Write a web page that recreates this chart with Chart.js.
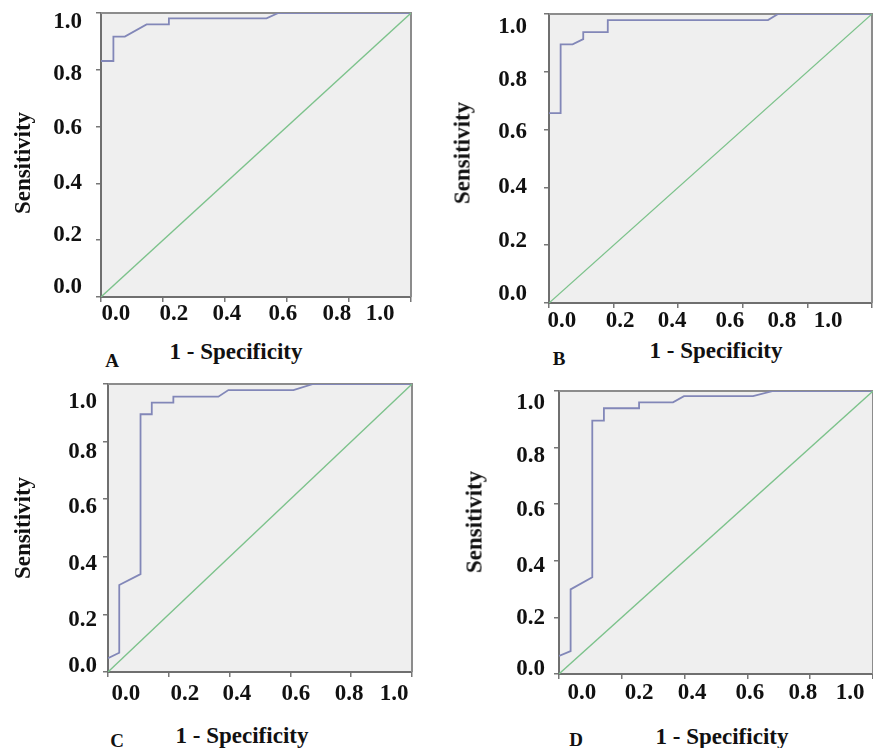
<!DOCTYPE html>
<html>
<head>
<meta charset="utf-8">
<script src="https://cdn.jsdelivr.net/npm/chart.js@4.4.1/dist/chart.umd.min.js"></script>
<style>
  body { margin: 0; background: #fff; width: 873px; height: 748px; position: relative; overflow: hidden;
         font-family: "Liberation Serif", "Times New Roman", serif; }
  canvas { position: absolute; }
  .txt { position: absolute; font-weight: bold; font-size: 23px; line-height: 1; white-space: nowrap;
         transform: translate(-50%, -50%); color: #111; }
  .rot { transform: translate(-50%, -50%) rotate(-90deg); }
  .tag { font-size: 19px; }
</style>
</head>
<body>
<canvas id="chartA"></canvas>
<canvas id="chartB"></canvas>
<canvas id="chartC"></canvas>
<canvas id="chartD"></canvas>

<div class="txt rot" style="left:22px; top:163px;">Sensitivity</div>
<div class="txt" style="left:236px; top:351px;">1 - Specificity</div>
<div class="txt tag" style="left:112px; top:360px;">A</div>

<div class="txt rot" style="left:462px; top:153px;">Sensitivity</div>
<div class="txt" style="left:716px; top:350px;">1 - Specificity</div>
<div class="txt tag" style="left:559px; top:358px;">B</div>

<div class="txt rot" style="left:22px; top:528px;">Sensitivity</div>
<div class="txt" style="left:242px; top:735px;">1 - Specificity</div>
<div class="txt tag" style="left:117px; top:740px;">C</div>

<div class="txt rot" style="left:474px; top:522px;">Sensitivity</div>
<div class="txt" style="left:722px; top:736px;">1 - Specificity</div>
<div class="txt tag" style="left:576px; top:739px;">D</div>

<script>
// tick labels shared by every panel
const tickText = ['0.0', '0.2', '0.4', '0.6', '0.8', '1.0'];

// reference line
const diagX = [0, 1];
const diagY = [0, 1];

// ROC curve A
const rocAx = [0, 0.04, 0.04, 0.077, 0.147, 0.219, 0.219, 0.534, 0.572, 1];
const rocAy = [0.831, 0.831, 0.917, 0.917, 0.96, 0.96, 0.981, 0.981, 1, 1];

// ROC curve B
const rocBx = [0, 0.036, 0.036, 0.073, 0.106, 0.106, 0.182, 0.182, 0.678, 0.709, 1];
const rocBy = [0.657, 0.657, 0.895, 0.895, 0.913, 0.937, 0.937, 0.979, 0.979, 1, 1];

// ROC curve C
const rocCx = [0, 0.037, 0.037, 0.107, 0.107, 0.144, 0.144, 0.215, 0.215, 0.363, 0.396, 0.61, 0.675, 1];
const rocCy = [0.048, 0.067, 0.302, 0.34, 0.895, 0.895, 0.935, 0.935, 0.956, 0.956, 0.979, 0.979, 1, 1];

// ROC curve D
const rocDx = [0, 0.037, 0.037, 0.106, 0.106, 0.143, 0.143, 0.255, 0.255, 0.363, 0.398, 0.618, 0.682, 1];
const rocDy = [0.064, 0.081, 0.299, 0.342, 0.895, 0.895, 0.939, 0.939, 0.96, 0.96, 0.982, 0.982, 1, 1];

// where each panel sits on the page, and where its tick labels were printed
const panels = [
  { id: 'chartA', rocX: rocAx, rocY: rocAy,
    box: { left: 0, top: 0, width: 415, height: 335 },
    plot: { left: 101, top: 13, right: 411, bottom: 297 },
    xLabelAt: [0.048, 0.235, 0.406, 0.587, 0.761, 0.9],
    yLabelAt: [0.035, 0.218, 0.401, 0.595, 0.785, 0.968],
    yPad: 13, xPad: 0 },
  { id: 'chartB', rocX: rocBx, rocY: rocBy,
    box: { left: 440, top: 0, width: 433, height: 335 },
    plot: { left: 549, top: 14, right: 872, bottom: 303 },
    xLabelAt: [0.04, 0.22, 0.381, 0.56, 0.721, 0.864],
    yLabelAt: [0.031, 0.215, 0.401, 0.592, 0.772, 0.955],
    yPad: 16, xPad: 1 },
  { id: 'chartC', rocX: rocCx, rocY: rocCy,
    box: { left: 0, top: 375, width: 416, height: 337 },
    plot: { left: 108, top: 384, right: 412, bottom: 672 },
    xLabelAt: [0.059, 0.253, 0.424, 0.618, 0.793, 0.941],
    yLabelAt: [0.021, 0.181, 0.375, 0.571, 0.762, 0.938],
    yPad: 5, xPad: 5 },
  { id: 'chartD', rocX: rocDx, rocY: rocDy,
    box: { left: 440, top: 375, width: 433, height: 337 },
    plot: { left: 559, top: 391, right: 873, bottom: 674 },
    xLabelAt: [0.073, 0.255, 0.424, 0.608, 0.777, 0.927],
    yLabelAt: [0.018, 0.198, 0.382, 0.58, 0.77, 0.958],
    yPad: 8, xPad: 2 }
];

const labelFont = { family: '"Liberation Serif", "Times New Roman", serif', size: 23, weight: 'bold', lineHeight: 1 };

// grey plot background and the light top/right frame
const plotFrame = {
  id: 'plotFrame',
  beforeDraw (chart) {
    const { ctx, chartArea: a } = chart;
    ctx.save();
    ctx.fillStyle = '#efefef';
    ctx.fillRect(a.left, a.top, a.right - a.left, a.bottom - a.top);
    ctx.restore();
  },
  beforeDatasetsDraw (chart) {
    const { ctx, chartArea: a } = chart;
    ctx.save();
    ctx.strokeStyle = '#8c8c8c';
    ctx.lineWidth = 2;
    ctx.beginPath();
    ctx.moveTo(a.left, a.top);
    ctx.lineTo(a.right, a.top);
    ctx.lineTo(a.right, a.bottom);
    ctx.stroke();
    ctx.restore();
  }
};

function toPoints (xs, ys) {
  return xs.map((x, i) => ({ x: x, y: ys[i] }));
}

function makeChart (p) {
  const canvas = document.getElementById(p.id);
  canvas.width = p.box.width;
  canvas.height = p.box.height;
  canvas.style.left = p.box.left + 'px';
  canvas.style.top = p.box.top + 'px';

  const yAxisWidth = p.plot.left - p.box.left - 6;
  const xAxisHeight = p.box.top + p.box.height - p.plot.bottom - 6;

  new Chart(canvas.getContext('2d'), {
    type: 'line',
    data: {
      datasets: [{
        data: toPoints(diagX, diagY),
        borderColor: '#7cc28b',
        borderWidth: 1.3,
        pointRadius: 0,
        fill: false
      }, {
        data: toPoints(p.rocX, p.rocY),
        borderColor: '#8287b8',
        borderWidth: 1.8,
        pointRadius: 0,
        tension: 0,
        fill: false
      }]
    },
    options: {
      responsive: false,
      animation: false,
      events: [],
      layout: {
        padding: { top: p.plot.top - p.box.top, right: p.box.left + p.box.width - p.plot.right, left: 0, bottom: 0 }
      },
      plugins: { legend: { display: false }, tooltip: { enabled: false } },
      scales: {
        x: {
          type: 'linear', min: 0, max: 1, weight: 0,
          ticks: { display: false, stepSize: 0.2 },
          grid: { display: true, drawOnChartArea: false, drawTicks: true, tickLength: 5, color: '#777', lineWidth: 1.5 },
          border: { display: true, color: '#6f6f6f', width: 2 },
          afterFit: s => { s.height = 6; }
        },
        xl: {
          type: 'linear', position: 'bottom', min: 0, max: 1, weight: 1,
          grid: { display: false, drawTicks: false },
          border: { display: false },
          afterBuildTicks: s => { s.ticks = p.xLabelAt.map(v => ({ value: v })); },
          ticks: { autoSkip: false, maxRotation: 0, padding: p.xPad, color: '#111', font: labelFont,
            callback: (v, i) => tickText[i] },
          afterFit: s => { s.height = xAxisHeight; s.paddingLeft = 0; s.paddingRight = 0; }
        },
        y: {
          type: 'linear', min: 0, max: 1, weight: 0,
          ticks: { display: false, stepSize: 0.2 },
          grid: { display: true, drawOnChartArea: false, drawTicks: true, tickLength: 5, color: '#777', lineWidth: 1.5 },
          border: { display: true, color: '#6f6f6f', width: 2 },
          afterFit: s => { s.width = 6; }
        },
        yl: {
          type: 'linear', position: 'left', min: 0, max: 1, weight: 1,
          grid: { display: false, drawTicks: false },
          border: { display: false },
          afterBuildTicks: s => { s.ticks = p.yLabelAt.map(v => ({ value: v })); },
          ticks: { autoSkip: false, padding: p.yPad, color: '#111', font: labelFont,
            callback: (v, i) => tickText[i] },
          afterFit: s => { s.width = yAxisWidth; s.paddingTop = 0; s.paddingBottom = 0; }
        }
      }
    },
    plugins: [plotFrame]
  });
}

panels.forEach(makeChart);
</script>
</body>
</html>
